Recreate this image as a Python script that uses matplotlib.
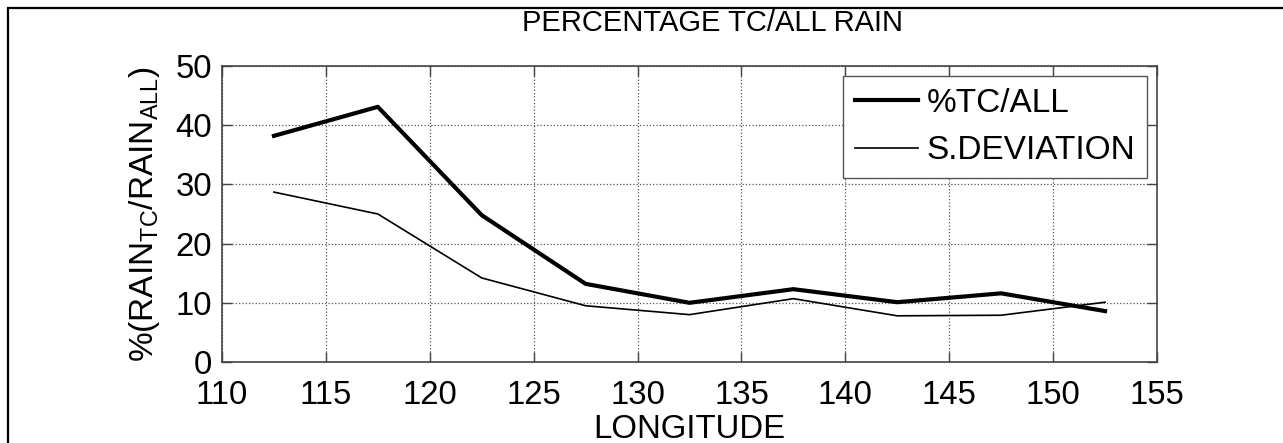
import numpy as np
import matplotlib
matplotlib.use("Agg")
import matplotlib.pyplot as plt
from matplotlib.patches import Rectangle

plt.rcParams['font.family'] = ['Liberation Sans', 'DejaVu Sans']
plt.rcParams['mathtext.fontset'] = 'custom'
plt.rcParams['mathtext.rm'] = 'Liberation Sans'
plt.rcParams['mathtext.it'] = 'Liberation Sans'
plt.rcParams['mathtext.default'] = 'rm'

longitude = [112.5, 117.5, 122.5, 127.5, 132.5, 137.5, 142.5, 147.5, 152.5]
pct_tc_all = [38.2, 43.1, 24.8, 13.2, 10.0, 12.3, 10.1, 11.6, 8.6]
std_dev = [28.7, 25.0, 14.2, 9.5, 8.0, 10.7, 7.8, 7.9, 10.1]

xticks = [110, 115, 120, 125, 130, 135, 140, 145, 150, 155]
yticks = [0, 10, 20, 30, 40, 50]

fig = plt.figure(figsize=(12.83, 4.43), dpi=100)
ax = fig.add_axes([222/1283, 1 - 362/443, (1157 - 222)/1283, (362 - 66)/443])

ax.plot(longitude, pct_tc_all, color='black', lw=3.0, label='%TC/ALL')
ax.plot(longitude, std_dev, color='black', lw=1.2, label='S.DEVIATION')

ax.set_xlim(110, 155)
ax.set_ylim(0, 50)
ax.set_xticks(xticks)
ax.set_yticks(yticks)
ax.grid(True, linestyle=':', color='#555555', lw=0.9)
ax.tick_params(direction='in', length=7, width=1, top=True, right=True,
               labelsize=23.7, color='#444444')
ax.tick_params(axis='x', pad=13)
ax.tick_params(axis='y', pad=7)
for s in ax.spines.values():
    s.set_color('#444444')
    s.set_linewidth(1.2)

# title sits a bit right of the axes centre in the original
fig.text(712/1283, 1 - 23/443, 'PERCENTAGE TC/ALL RAIN', fontsize=21,
         ha='center', va='center')
ax.set_xlabel('LONGITUDE', fontsize=23.7, labelpad=2)
ax.set_ylabel(r'%(RAIN$_{\mathrm{TC}}$/RAIN$_{\mathrm{ALL}}$)', fontsize=24, labelpad=10)

leg = ax.legend(loc='upper right', fontsize=24, handlelength=1.9, handletextpad=0.25,
                borderpad=0.35, labelspacing=0.5, borderaxespad=0.3,
                fancybox=False, framealpha=1, edgecolor='#555555')
leg.get_frame().set_linewidth(1.0)

# outer frame, cropped at the right and bottom
fig.patches.append(Rectangle((8/1283, -0.2), 1.2, 1.2 - 8/443, transform=fig.transFigure,
                             fill=False, edgecolor='black', lw=1.6, clip_on=False))

fig.savefig('out.png', dpi=100)
